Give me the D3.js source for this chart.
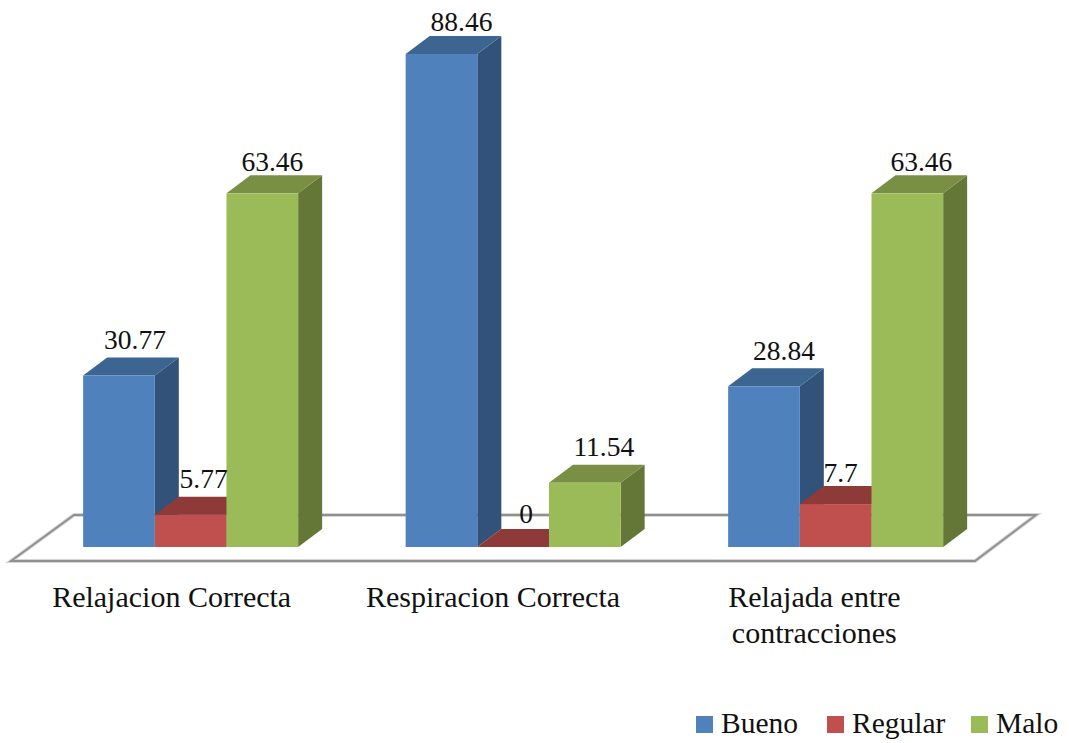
<!DOCTYPE html>
<html>
<head>
<meta charset="utf-8">
<script src="https://cdn.jsdelivr.net/npm/d3@7/dist/d3.min.js"></script>
<style>
  html, body { margin: 0; background: #fff; }
  svg { display: block; }
  text { font-family: "Liberation Serif", serif; fill: #111; }
</style>
</head>
<body>
<svg id="chart" width="1069" height="743"></svg>
<script>
const categories = ["Relajacion Correcta", "Respiracion Correcta", "Relajada entre contracciones"];
const categoryLines = [["Relajacion Correcta"], ["Respiracion Correcta"], ["Relajada entre", "contracciones"]];
const seriesNames = ["Bueno", "Regular", "Malo"];
const bueno = [30.77, 88.46, 28.84];
const regular = [5.77, 0, 7.7];
const malo = [63.46, 11.54, 63.46];
const seriesValues = [bueno, regular, malo];

const frontColors = ["#4f81bd", "#c0504d", "#9bbb59"];
const topColors = ["#3c6592", "#8e3a38", "#788f44"];
const sideColors = ["#325279", "#7a302e", "#647736"];

// Oblique projection used for the box depth and the floor plate
const depthX = 24, depthY = 18;
const baseline = 547;

const svg = d3.select("#chart");

const y = d3.scaleLinear().domain([0, 88.46]).range([baseline, 54]);
const floorBand = d3.scaleBand().domain(categories).range([11, 975]);
const group = d3.scaleBand().domain(categories).range([29.4, 996.9])
  .paddingInner(1 / 3).paddingOuter(1 / 6);
const bar = d3.scaleBand().domain(seriesNames).range([0, group.bandwidth()]);

// Floor plate behind the boxes
const floorPath = d3.line()([[11, 561], [74, 515], [1036, 515], [975, 561]]) + "Z";
svg.append("path").attr("d", floorPath)
  .attr("fill", "none").attr("stroke", "#d6d6d6").attr("stroke-width", 4).attr("stroke-linejoin", "miter");
svg.append("path").attr("d", floorPath)
  .attr("fill", "none").attr("stroke", "#909090").attr("stroke-width", 1.9).attr("stroke-linejoin", "miter");

// Boxes, left to right so each one overlaps its neighbour's side face
const marks = svg.append("g");
categories.forEach((cat, c) => {
  seriesNames.forEach((name, s) => {
    const x0 = group(cat) + bar(name);
    const x1 = x0 + bar.bandwidth();
    const top = y(seriesValues[s][c]);
    const g = marks.append("g");
    g.append("path")
      .attr("d", d3.line()([[x1, top], [x1 + depthX, top - depthY], [x1 + depthX, baseline - depthY], [x1, baseline]]) + "Z")
      .attr("fill", sideColors[s]);
    g.append("path")
      .attr("d", d3.line()([[x0, top], [x0 + depthX, top - depthY], [x1 + depthX, top - depthY], [x1, top]]) + "Z")
      .attr("fill", topColors[s]);
    g.append("rect")
      .attr("x", x0).attr("y", top)
      .attr("width", bar.bandwidth()).attr("height", baseline - top)
      .attr("fill", frontColors[s]);
  });
});

// Hand placement of the value labels relative to each box: [dx, dy]
const labelNudge = [
  [[16, -27], [13, -27], [10, -22]],
  [[20, -23], [13, -24], [19, -27]],
  [[20, -26], [5, -22], [14, -22]]
];
const valueLabels = svg.append("g").attr("font-size", 27.5).attr("text-anchor", "middle");
categories.forEach((cat, c) => {
  seriesNames.forEach((name, s) => {
    const v = seriesValues[s][c];
    const cx = group(cat) + bar(name) + bar.bandwidth() / 2;
    valueLabels.append("text")
      .attr("x", cx + labelNudge[c][s][0])
      .attr("y", y(v) + labelNudge[c][s][1])
      .text(String(v));
  });
});

// Category labels under the floor
const axisLabels = svg.append("g").attr("font-size", 30).attr("text-anchor", "middle");
categories.forEach((cat, c) => {
  categoryLines[c].forEach((line, i) => {
    axisLabels.append("text")
      .attr("x", floorBand(cat) + floorBand.bandwidth() / 2)
      .attr("y", 607 + i * 36)
      .text(line);
  });
});

// Legend
const legendSwatchX = [696, 827, 971];
const legend = svg.append("g").attr("font-size", 29.5);
seriesNames.forEach((name, s) => {
  legend.append("rect")
    .attr("x", legendSwatchX[s]).attr("y", 716)
    .attr("width", 17).attr("height", 17)
    .attr("fill", frontColors[s]);
  legend.append("text")
    .attr("x", legendSwatchX[s] + 25).attr("y", 733)
    .text(name);
});
</script>
</body>
</html>
